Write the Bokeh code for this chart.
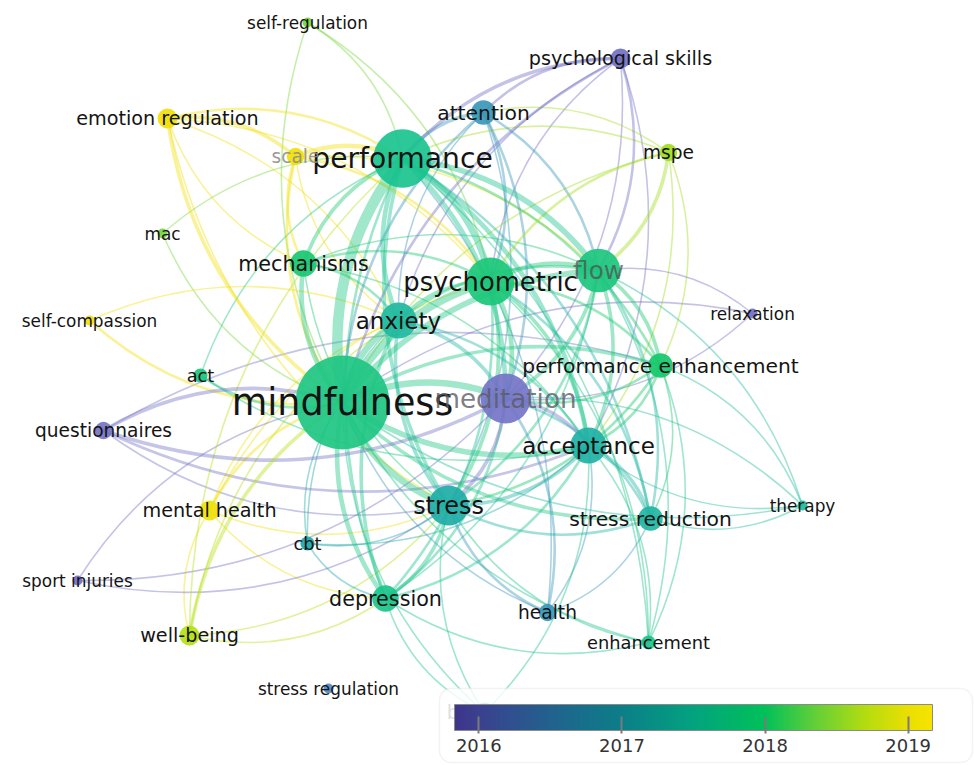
import numpy as np
from bokeh.plotting import figure
from bokeh.models import (Range1d, ColumnDataSource, LinearColorMapper, ColorBar,
                          FixedTicker, BoxAnnotation)
from bokeh.transform import transform
from bokeh.core.properties import value
from bokeh.embed import file_html
from bokeh.resources import INLINE

# ---------------- data ----------------
labels = ["mindfulness", "performance", "psychometric", "flow", "anxiety", "meditation",
          "acceptance", "stress", "stress reduction", "performance enhancement", "depression",
          "mechanisms", "attention", "psychological skills", "mspe", "scale",
          "emotion regulation", "self-regulation", "mac", "self-compassion", "act",
          "questionnaires", "mental health", "cbt", "sport injuries", "well-being",
          "stress regulation", "health", "enhancement", "therapy", "relaxation", "burnout"]
layout_x = [342, 402, 490, 598, 398, 505, 588, 448, 650, 660, 385, 303, 483, 620, 668, 295,
            167, 307, 162, 89, 200, 103, 209, 307, 77, 189, 328, 547, 648, 802, 752, 484]
layout_y = [402, 158, 281, 270, 320, 398, 445, 505, 518, 365, 598, 263, 112, 58, 152, 156,
            118, 22, 233, 320, 375, 430, 510, 543, 580, 635, 688, 612, 642, 505, 313, 712]
occurrences = [88, 34, 23, 19, 13, 25, 13, 16, 6, 6, 7, 7, 6, 4, 3, 3,
               4, 1, 1, 1, 2, 3, 4, 2, 1, 4, 1, 3, 2, 1, 1, 4]
avg_year = [2017.75, 2017.55, 2017.85, 2017.8, 2017.2, 2015.95, 2017.1, 2017.05, 2017.15,
            2017.95, 2017.6, 2017.9, 2016.7, 2015.9, 2018.6, 2019.0, 2019.0, 2018.4, 2018.4,
            2019.0, 2017.8, 2015.95, 2019.0, 2017.0, 2015.9, 2018.7, 2016.4, 2016.7, 2017.6,
            2017.3, 2015.9, 2017.6]

edge_source = [
    "mindfulness", "mindfulness", "mindfulness", "mindfulness", "mindfulness", "mindfulness",
    "mindfulness", "mindfulness", "mindfulness", "mindfulness", "mindfulness",
    "performance", "performance", "performance", "performance", "performance", "performance",
    "psychometric", "psychometric", "psychometric", "psychometric", "psychometric",
    "flow", "flow", "flow", "flow", "anxiety", "anxiety", "anxiety",
    "meditation", "meditation", "acceptance",
    "stress reduction", "stress reduction", "stress reduction", "stress reduction",
    "stress reduction", "stress reduction",
    "performance enhancement", "performance enhancement", "performance enhancement",
    "performance enhancement", "performance enhancement", "performance enhancement",
    "performance enhancement",
    "depression", "depression", "depression", "depression", "depression", "depression",
    "depression",
    "mechanisms", "mechanisms", "mechanisms", "mechanisms", "mechanisms", "mechanisms",
    "attention", "attention", "attention", "attention", "attention", "attention", "attention",
    "psychological skills", "psychological skills", "psychological skills",
    "psychological skills", "psychological skills", "psychological skills",
    "psychological skills", "psychological skills",
    "mspe", "mspe", "mspe", "mspe", "mspe", "mspe", "mspe",
    "scale", "scale", "scale", "scale", "scale", "scale",
    "emotion regulation", "emotion regulation", "emotion regulation", "emotion regulation",
    "emotion regulation", "emotion regulation", "emotion regulation",
    "self-regulation", "self-regulation", "self-regulation",
    "mac", "mac", "self-compassion", "self-compassion",
    "act", "act", "act",
    "questionnaires", "questionnaires", "questionnaires", "questionnaires", "questionnaires",
    "mental health", "mental health", "mental health", "mental health", "mental health",
    "mental health",
    "sport injuries", "sport injuries", "sport injuries",
    "well-being", "well-being", "well-being", "well-being", "well-being",
    "cbt", "cbt", "cbt", "cbt", "cbt",
    "health", "health", "health", "health", "health", "health",
    "enhancement", "enhancement", "enhancement", "enhancement", "enhancement", "enhancement",
    "enhancement", "enhancement",
    "therapy", "therapy", "therapy", "therapy", "therapy", "therapy",
    "relaxation", "relaxation", "relaxation",
    "burnout", "burnout", "burnout", "burnout"]
edge_target = [
    "performance", "psychometric", "flow", "anxiety", "meditation", "acceptance",
    "stress", "depression", "mechanisms", "performance enhancement", "stress reduction",
    "psychometric", "flow", "anxiety", "meditation", "acceptance", "stress",
    "flow", "anxiety", "meditation", "acceptance", "stress",
    "anxiety", "meditation", "acceptance", "stress", "meditation", "acceptance", "stress",
    "acceptance", "stress", "stress",
    "stress", "acceptance", "meditation", "flow", "psychometric", "performance",
    "flow", "performance", "psychometric", "meditation", "acceptance", "stress",
    "stress reduction",
    "stress", "anxiety", "acceptance", "performance", "psychometric", "flow", "meditation",
    "performance", "psychometric", "anxiety", "flow", "stress", "acceptance",
    "mindfulness", "performance", "psychometric", "flow", "meditation", "anxiety", "stress",
    "performance", "attention", "flow", "psychometric", "meditation", "mindfulness",
    "acceptance", "anxiety",
    "flow", "performance", "psychometric", "mindfulness", "attention", "acceptance",
    "performance enhancement",
    "performance", "mindfulness", "mechanisms", "psychometric", "anxiety", "flow",
    "scale", "performance", "mindfulness", "mechanisms", "psychometric", "anxiety", "stress",
    "mindfulness", "psychometric", "performance",
    "performance", "mindfulness", "mindfulness", "anxiety",
    "mindfulness", "acceptance", "performance",
    "mindfulness", "meditation", "acceptance", "performance enhancement", "stress",
    "mindfulness", "depression", "stress", "well-being", "anxiety", "psychometric",
    "mindfulness", "meditation", "stress",
    "mindfulness", "depression", "performance", "stress", "anxiety",
    "mindfulness", "acceptance", "stress", "depression", "anxiety",
    "meditation", "stress", "mindfulness", "acceptance", "stress reduction", "performance",
    "mindfulness", "performance", "flow", "psychometric", "acceptance", "stress",
    "performance enhancement", "depression",
    "stress reduction", "acceptance", "performance enhancement", "flow", "mindfulness",
    "meditation",
    "meditation", "flow", "mindfulness",
    "mindfulness", "stress", "depression", "acceptance"]
edge_strength = [
    10, 7, 5, 6, 6, 5, 6, 4, 4, 3, 3,
    6, 5, 4, 4, 4, 3,
    4, 3, 4, 3, 3,
    2, 3, 3, 2, 3, 2, 3,
    3, 3, 3,
    2, 3, 2, 2, 2, 2,
    3, 2, 2, 2, 2, 2, 1,
    3, 3, 2, 2, 2, 1, 2,
    3, 2, 2, 1, 1, 1,
    2, 3, 2, 2, 2, 1, 1,
    3, 2, 2, 1, 1, 2, 1, 1,
    3, 1, 2, 1, 1, 1, 1,
    4, 2, 2, 2, 1, 1,
    3, 2, 3, 1, 1, 1, 1,
    1, 1, 1,
    1, 1, 2, 1,
    2, 1, 1,
    3, 3, 2, 1, 1,
    2, 1, 1, 1, 1, 1,
    1, 1, 1,
    3, 1, 1, 1, 1,
    1, 1, 1, 1, 1,
    2, 2, 1, 1, 1, 1,
    1, 1, 1, 1, 1, 1, 1, 1,
    1, 1, 1, 1, 1, 1,
    1, 1, 1,
    1, 1, 1, 1]

year_ticks = [2016, 2017, 2018, 2019]
year_low, year_high = 2015.83, 2019.17

# colour stops
bar_stop_years = [2015.83, 2016.0, 2016.5, 2017.0, 2017.5, 2018.0, 2018.35, 2018.7, 2019.0, 2019.17]
bar_stop_colors = ["#3d358b", "#3b418f", "#22628e", "#0b7f88", "#03a37f", "#00c15a",
                   "#62cf38", "#b3dc10", "#e9df02", "#f6e400"]
# colour stops read from the (lighter) network nodes
node_stop_years = [2015.83, 2016.0, 2016.5, 2017.0, 2017.2, 2017.5, 2017.75, 2018.0, 2018.4,
                   2018.7, 2019.0, 2019.17]
node_stop_colors = ["#706cc4", "#7678c8", "#4a8cc4", "#1ea8a8", "#1fb9a0", "#19c290",
                    "#1ec684", "#14c864", "#78d63c", "#b4e014", "#f0e00a", "#f6e404"]


# ---------------- palettes ----------------
def build_palette(years, colors, n=256):
    rgb = np.array([[int(c[i:i + 2], 16) for i in (1, 3, 5)] for c in colors], dtype=float)
    out = []
    for g in np.linspace(year_low, year_high, n):
        r, gg, b = (np.interp(g, years, rgb[:, j]) for j in range(3))
        out.append("#%02x%02x%02x" % (int(round(r)), int(round(gg)), int(round(b))))
    return out


bar_mapper = LinearColorMapper(palette=build_palette(bar_stop_years, bar_stop_colors),
                               low=year_low, high=year_high)
node_mapper = LinearColorMapper(palette=build_palette(node_stop_years, node_stop_colors),
                                low=year_low, high=year_high)

# ---------------- geometry ----------------
idx = {n: i for i, n in enumerate(labels)}
cx0, cy0 = 450.0, 400.0
ex0, ey0, ex1, ey1, ecx, ecy, eyear, ew = [], [], [], [], [], [], [], []
order = np.argsort(edge_strength, kind="stable")
for k in order:
    a, b = idx[edge_source[k]], idx[edge_target[k]]
    x0, y0, x1, y1 = layout_x[a], layout_y[a], layout_x[b], layout_y[b]
    mx, my = (x0 + x1) / 2, (y0 + y1) / 2
    dx, dy = x1 - x0, y1 - y0
    L = np.hypot(dx, dy)
    nx, ny = -dy / L, dx / L
    if nx * (mx - cx0) + ny * (my - cy0) < 0:
        nx, ny = -nx, -ny
    ex0.append(x0); ey0.append(y0); ex1.append(x1); ey1.append(y1)
    ecx.append(mx + 0.22 * L * nx); ecy.append(my + 0.22 * L * ny)
    eyear.append(avg_year[a])
    ew.append(0.6 + 1.0 * edge_strength[k])

edges = ColumnDataSource(dict(x0=ex0, y0=ey0, x1=ex1, y1=ey1, cx=ecx, cy=ecy,
                              year=eyear, w=ew))

radius = [5.0 * np.sqrt(o) for o in occurrences]
font_px = ["%.1fpx" % (14.5 + 2.35 * np.sqrt(o)) for o in occurrences]
dim = {"meditation": ("#5a5a66", 0.8), "flow": ("#4a5550", 0.75), "scale": ("#8c8c8c", 0.9),
       "burnout": ("#444444", 0.9)}
tcol = [dim.get(n, ("#141414", 1.0))[0] for n in labels]
talpha = [dim.get(n, ("#141414", 1.0))[1] for n in labels]

nodes = ColumnDataSource(dict(x=layout_x, y=layout_y, r=radius, year=avg_year,
                              label=labels, fs=font_px, tc=tcol, ta=talpha))

# ---------------- figure ----------------
p = figure(width=975, height=765, x_range=Range1d(0, 975), y_range=Range1d(765, 0),
           output_backend="svg", toolbar_location=None, min_border=0,
           x_axis_type=None, y_axis_type=None)
p.xgrid.visible = False
p.ygrid.visible = False
p.outline_line_color = None
p.background_fill_color = "white"

p.quadratic(x0="x0", y0="y0", x1="x1", y1="y1", cx="cx", cy="cy", source=edges,
            line_color=transform("year", node_mapper), line_width="w", line_alpha=0.42)
p.circle(x="x", y="y", radius="r", source=nodes, fill_color=transform("year", node_mapper),
         fill_alpha=0.92, line_color=None)
p.text(x="x", y="y", text="label", source=nodes, text_font=value("DejaVu Sans"),
       text_font_size="fs", text_color="tc", text_alpha="ta",
       text_align="center", text_baseline="middle")

box = BoxAnnotation(left=439, right=972, top=688, bottom=762, fill_color="white",
                    fill_alpha=0.8, line_color="#d6d6d6", line_width=1.5, border_radius=12)
p.add_layout(box)

cb = ColorBar(color_mapper=bar_mapper, orientation="horizontal", location=(454, 11),
              width=478, height=26, padding=0, ticker=FixedTicker(ticks=year_ticks),
              major_label_text_font_size="18px", major_label_text_font="DejaVu Sans",
              major_label_text_color="#333333", major_tick_in=14, major_tick_out=3,
              major_tick_line_color="#7a7a7a", major_tick_line_width=2,
              bar_line_color="#8a8a8a", bar_line_width=1, background_fill_alpha=0,
              border_line_color=None, label_standoff=5)
p.add_layout(cb)

open("out.html", "w").write(file_html(p, INLINE))
